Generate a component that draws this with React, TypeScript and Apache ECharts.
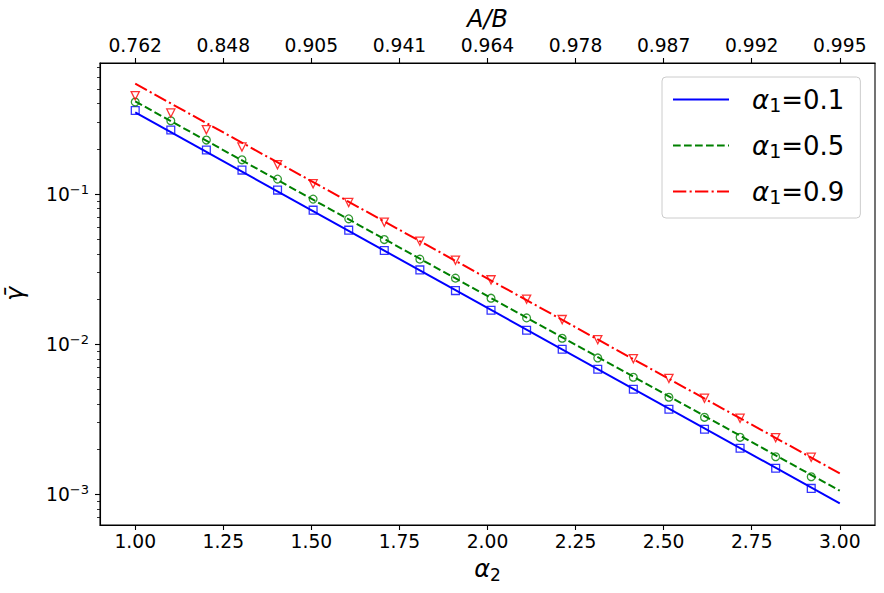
import React, { useEffect, useRef } from 'react';
import * as echarts from 'echarts';

// ---- data ----
const xTicks = [1.0, 1.25, 1.5, 1.75, 2.0, 2.25, 2.5, 2.75, 3.0];
const topTickLabels = ['0.762', '0.848', '0.905', '0.941', '0.964', '0.978', '0.987', '0.992', '0.995'];
const yMajorTicks = [1e-3, 1e-2, 1e-1];
const yMinorTicks = [
  7e-4, 8e-4, 9e-4,
  2e-3, 3e-3, 4e-3, 5e-3, 6e-3, 7e-3, 8e-3, 9e-3,
  2e-2, 3e-2, 4e-2, 5e-2, 6e-2, 7e-2, 8e-2, 9e-2,
  2e-1, 3e-1, 4e-1, 5e-1, 6e-1, 7e-1,
];

const seriesNames = ['α1=0.1', 'α1=0.5', 'α1=0.9'];

const lineX = [1.0, 3.0];
const blueLine = [0.3499, 0.000871];
const greenLine = [0.4144, 0.001057];
const redLine = [0.5437, 0.00138];

const markerX = [
  1.0, 1.101, 1.202, 1.303, 1.404, 1.505, 1.606, 1.707, 1.808, 1.909,
  2.01, 2.111, 2.212, 2.313, 2.414, 2.515, 2.616, 2.717, 2.818, 2.919,
];
const blueMarkers = [
  0.3608, 0.2672, 0.1965, 0.1445, 0.1063, 0.0782, 0.05754, 0.04207, 0.03128, 0.02277,
  0.01685, 0.0124, 0.009261, 0.006813, 0.005012, 0.003687, 0.002712, 0.002026, 0.001491, 0.001096,
];
const greenMarkers = [
  0.4105, 0.3081, 0.2291, 0.1693, 0.1259, 0.09261, 0.06844, 0.04982, 0.03687, 0.02754,
  0.02026, 0.01497, 0.01096, 0.008102, 0.006026, 0.004433, 0.003261, 0.002399, 0.001781, 0.00131,
];
const redMarkers = [
  0.4521, 0.3467, 0.2684, 0.2058, 0.1568, 0.1171, 0.0879, 0.06505, 0.04861, 0.03631,
  0.02684, 0.01995, 0.01459, 0.01073, 0.008017, 0.005916, 0.004365, 0.003211, 0.002384, 0.001765,
];

const COLORS = ['#0000ff', '#008000', '#ff0000'];
const FONT = 'DejaVu Sans';

const pairs = (xs: number[], ys: number[]) => xs.map((x, i) => [x, ys[i]]);

export default function App() {
  const ref = useRef<HTMLDivElement>(null);

  useEffect(() => {
    if (!ref.current) return;
    const chart = echarts.init(ref.current, undefined, { renderer: 'svg' });

    const axisLine = { show: true, onZero: false, lineStyle: { color: '#000', width: 1.1 } };
    const majorTick = (vals: number[]) => ({
      show: true, inside: false, length: 5, customValues: vals,
      lineStyle: { color: '#000', width: 1.1 },
    });
    const tickLabel = { color: '#000', fontSize: 18.7, fontFamily: FONT };

    const lineLabel = (name: string) => {
      const sub = name.charAt(1);
      const rest = name.slice(2);
      return `{g|\u00a0}{a|α}{s|${sub}}{t|${rest}}`;
    };

    const lineData = [blueLine, greenLine, redLine];
    const markerData = [blueMarkers, greenMarkers, redMarkers];
    const dashes: any[] = ['solid', [7.7, 3.3], [13.3, 3.3, 2.1, 3.3]];
    const symbols = ['rect', 'circle', 'triangle'];

    const series: any[] = [];
    for (let k = 0; k < 3; k++) {
      series.push({
        type: 'scatter',
        name: 'markers' + k,
        data: pairs(markerX, markerData[k]),
        symbol: symbols[k],
        symbolSize: k === 2 ? 8.2 : 7.8,
        symbolRotate: k === 2 ? 180 : 0,
        itemStyle: { color: 'rgba(255,255,255,0)', borderColor: COLORS[k], borderWidth: 1.3 },
        z: 2,
      });
    }
    for (let k = 0; k < 3; k++) {
      series.push({
        type: 'line',
        name: seriesNames[k],
        data: pairs(lineX, lineData[k]),
        symbol: 'none',
        showSymbol: false,
        lineStyle: { color: COLORS[k], width: 2, type: dashes[k] },
        itemStyle: { color: COLORS[k] },
        z: 3,
      });
    }

    chart.setOption({
      animation: false,
      backgroundColor: '#ffffff',
      grid: {
        left: 100, right: 9, top: 63, bottom: 68,
        containLabel: false,
        outerBoundsMode: 'none',
        show: true, borderColor: '#000', borderWidth: 1.1, backgroundColor: 'transparent',
      },
      legend: {
        data: seriesNames,
        orient: 'vertical',
        left: 662,
        top: 77,
        padding: [9.5, 16, 11.5, 10],
        itemGap: 18,
        itemWidth: 56,
        itemHeight: 14,
        selectedMode: false,
        itemStyle: { opacity: 0 },
        backgroundColor: 'rgba(255,255,255,0.8)',
        borderColor: '#cccccc',
        borderWidth: 1,
        borderRadius: 4,
        formatter: (name: string) => lineLabel(name),
        textStyle: {
          color: '#000',
          rich: {
            g: { fontFamily: FONT, fontSize: 25, width: 18, lineHeight: 30 },
            a: { fontFamily: FONT, fontStyle: 'italic', fontSize: 26, lineHeight: 30, color: '#000' },
            s: { fontFamily: FONT, fontSize: 19, lineHeight: 20, verticalAlign: 'bottom', color: '#000' },
            t: { fontFamily: FONT, fontSize: 26, lineHeight: 30, color: '#000' },
          },
        },
      },
      xAxis: [
        {
          type: 'value', min: 0.9, max: 3.1, position: 'bottom',
          axisLine, axisTick: majorTick(xTicks),
          axisLabel: { ...tickLabel, customValues: xTicks, margin: 7, formatter: (v: number) => v.toFixed(2) },
          splitLine: { show: false },
          name: '{a|α}{s|2}', nameLocation: 'middle', nameGap: 30,
          nameTextStyle: {
            rich: {
              a: { fontFamily: FONT, fontStyle: 'italic', fontSize: 24, lineHeight: 28, color: '#000' },
              s: { fontFamily: FONT, fontSize: 17, lineHeight: 19, verticalAlign: 'bottom', color: '#000' },
            },
          },
        },
        {
          type: 'value', min: 0.9, max: 3.1, position: 'top',
          axisLine, axisTick: majorTick(xTicks),
          axisLabel: {
            ...tickLabel, customValues: xTicks, margin: 8,
            formatter: (v: number) => {
              const i = xTicks.findIndex((t) => Math.abs(t - v) < 1e-6);
              return i >= 0 ? topTickLabels[i] : '';
            },
          },
          splitLine: { show: false },
          name: 'A/B', nameLocation: 'middle', nameGap: 32,
          nameTextStyle: { fontFamily: FONT, fontStyle: 'italic', fontSize: 24, color: '#000' },
        },
      ],
      yAxis: [
        {
          type: 'log', logBase: 10, min: 6.25e-4, max: 0.747, position: 'left',
          axisLine, axisTick: majorTick(yMajorTicks),
          axisLabel: {
            customValues: yMajorTicks, margin: 11,
            formatter: (v: number) => {
              const e = Math.round(Math.log10(v));
              return `{b|10}{s|${e < 0 ? '\u2212' : ''}${Math.abs(e)}}`;
            },
            rich: {
              b: { fontFamily: FONT, fontSize: 18.7, lineHeight: 22, color: '#000' },
              s: { fontFamily: FONT, fontSize: 13, lineHeight: 17, verticalAlign: 'top', color: '#000' },
            },
          },
          splitLine: { show: false },
          name: '\u03b3\u0304', nameLocation: 'middle', nameRotate: 90, nameGap: 73,
          nameTextStyle: { fontFamily: FONT, fontStyle: 'italic', fontSize: 24, color: '#000' },
        },
        {
          type: 'log', logBase: 10, min: 6.25e-4, max: 0.747, position: 'left',
          axisLine: { show: false },
          axisTick: { show: true, inside: false, length: 3, customValues: yMinorTicks, lineStyle: { color: '#000', width: 0.8 } },
          axisLabel: { show: false },
          splitLine: { show: false },
        },
      ],
      series,
    });

    return () => chart.dispose();
  }, []);

  return (
    <div
      ref={ref}
      style={{ position: 'absolute', left: 0, top: 0, width: 884, height: 593 }}
    />
  );
}
